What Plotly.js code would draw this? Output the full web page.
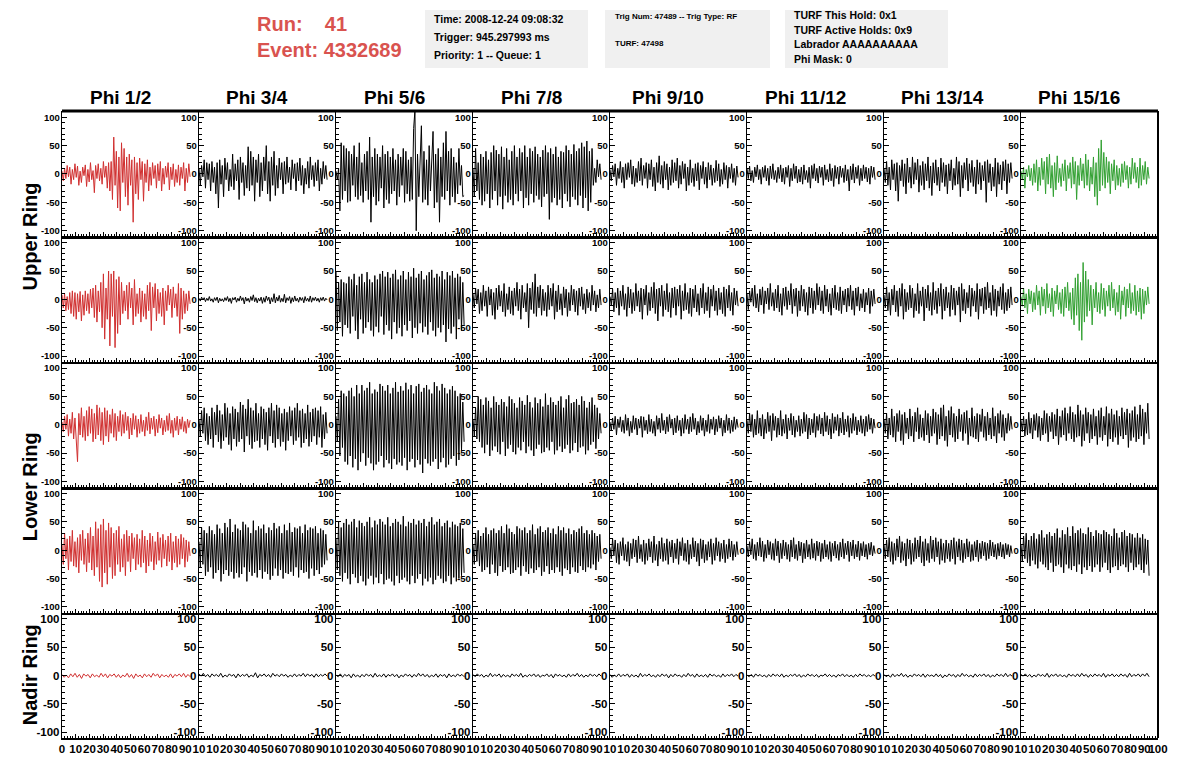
<!DOCTYPE html>
<html><head><meta charset="utf-8">
<script src="https://cdn.plot.ly/plotly-3.0.1.min.js"></script>
<style>html,body{margin:0;padding:0;background:#fff}#chart{width:1196px;height:772px}</style>
</head><body><div id="chart"></div>
<script>
// ---- tick labels / categories ----
const phiLabels = ["Phi 1/2","Phi 3/4","Phi 5/6","Phi 7/8","Phi 9/10","Phi 11/12","Phi 13/14","Phi 15/16"];
const ringLabels = ["Upper Ring","Lower Ring","Nadir Ring"];
const infoBox1 = ["Time: 2008-12-24 09:08:32","Trigger: 945.297993 ms","Priority: 1 -- Queue: 1"];
const infoBox2 = ["Trig Num: 47489 -- Trig Type: RF","TURF: 47498"];
const infoBox3 = ["TURF This Hold: 0x1","TURF Active Holds: 0x9","Labrador AAAAAAAAAA","Phi Mask: 0"];
const runText = "Run:    41";
const eventText = "Event: 4332689";
const traceSpan = 93.5; // ns covered by each waveform

// ---- waveforms (mV), Upper ring top row ----
const r1c1=[5,-12,10,-8,15,-5,12,-18,8,-10,18,-6,14,-20,5,-15,12,-3,16,-22,8,-14,20,-10,6,-33,15,-8,18,-12,10,-18,22,-6,14,-25,20,-30,22,-45,65,-20,40,-60,30,-65,55,-15,45,-40,30,-55,35,-20,25,-85,30,-35,20,-45,28,-10,22,-48,18,-15,25,-30,12,-20,20,-8,15,-25,18,-12,22,-30,10,-18,14,-6,20,-28,12,-10,18,-22,8,-15,16,-20,12,-8,20,-30,10,-15,18,-5];
const r1c2=[10,-20,15,-5,25,-25,20,-10,18,-30,22,-15,12,-35,20,-60,25,-18,15,-40,28,-10,20,-30,8,-22,35,-28,18,-12,25,-45,30,-15,20,-38,15,-25,48,-30,40,-20,30,-48,25,-15,35,-40,20,-30,30,-12,50,-35,22,-48,30,-20,40,-38,15,-25,28,-10,20,-35,22,-18,30,-15,12,-28,25,-8,18,-30,20,-12,28,-20,15,-35,10,-18,22,-25,30,-10,15,-22,20,-12,25,-30,10,-18,22,-8,15,-10];
const r1c3=[5,-10,10,-65,55,-45,50,-30,45,-50,40,-48,35,-20,50,-40,30,-45,55,-38,20,-50,35,-30,40,-45,65,-85,30,-40,45,-55,35,-48,30,-25,50,-60,35,-45,40,-52,30,-35,45,-30,25,-55,35,-40,30,-20,45,-50,40,-35,25,-48,30,-45,80,112,-100,35,-40,30,85,-50,40,-45,25,-55,50,-30,40,75,-60,35,-50,45,-85,30,-40,55,-45,75,-30,40,-55,45,-40,30,-50,20,-35,45,-20,15,-40,-38];
const r1c4=[10,-40,45,-30,20,-45,35,-55,30,-48,40,-35,25,-60,38,-45,50,-30,42,-55,35,-40,48,-62,30,-38,45,-50,25,-45,40,-55,50,-35,30,-48,45,-30,38,-60,50,-42,30,-55,45,-35,40,-50,48,-38,35,-45,30,-58,42,-40,50,-35,38,-80,45,-50,35,-42,48,-55,30,-45,40,-60,38,-35,50,-48,42,-58,35,-40,52,-45,40,-55,45,-38,55,-60,48,-42,58,-65,40,-50,45,-20,10,-15,25,-5,18,-10];
const r1c5=[8,-12,15,-5,18,-20,10,-8,22,-15,12,-25,18,-10,20,-6,25,-18,14,-22,10,-15,22,-12,28,-20,15,-8,20,-25,18,-10,25,-22,12,-30,20,-15,32,-18,15,-25,22,-10,18,-28,12,-20,25,-15,20,-12,28,-25,15,-18,22,-8,18,-30,12,-20,25,-15,10,-22,18,-12,20,-28,15,-8,22,-18,12,-25,20,-10,16,-20,10,-15,24,-12,18,-22,8,-18,20,-10,15,-25,12,-8,18,-15,10,-20,14,-6];
const r1c6=[10,-8,14,-12,6,-15,12,-5,16,-10,8,-18,12,-6,15,-12,10,-20,14,-8,18,-10,6,-15,12,-8,16,-14,10,-18,12,-6,15,-22,10,-12,18,-8,14,-16,8,-14,12,-18,16,-10,6,-15,12,-25,15,-8,18,-12,10,-16,14,-6,12,-20,16,-10,8,-14,18,-12,10,-22,15,-8,12,-18,14,-6,10,-15,16,-12,8,-30,14,-10,18,-16,12,-8,15,-20,10,-12,16,-8,12,-14,10,-18,14,-6,12,-10];
const r1c7=[10,-15,22,-20,12,-28,25,-10,18,-30,20,-48,15,-12,25,-22,18,-35,28,-15,12,-25,30,-18,20,-10,26,-32,15,-20,22,-28,18,-12,30,-25,14,-38,20,-16,25,-20,12,-30,28,-15,20,-22,16,-35,18,-12,25,-28,10,-20,30,-18,22,-40,15,-25,20,-10,28,-30,18,-15,24,-22,12,-35,25,-18,20,-28,15,-12,22,-50,25,-15,18,-30,12,-22,28,-40,20,-18,16,-28,22,-12,25,-35,18,-15,20,-8];
const r1c8=[5,-10,12,-25,8,-5,15,-12,10,-20,18,-15,25,-30,12,-20,28,-10,22,-35,30,-18,35,-25,15,-40,20,-28,32,-15,10,-22,18,-12,25,-30,15,-8,20,-25,30,-18,22,-45,15,-20,28,-12,18,-25,35,-20,25,-30,12,-18,30,-40,20,-55,45,-30,60,-20,38,-25,30,-15,22,-35,18,-12,25,-28,15,-20,10,-22,18,-15,22,-10,15,-25,12,-18,28,-8,20,-15,12,-25,28,-20,15,-10,22,-18,12,-8];
// ---- Upper ring bottom row ----
const r2c1=[8,-15,10,-20,5,-18,12,-25,15,-30,12,-35,10,-22,14,-38,8,-28,15,-20,10,-25,18,-15,20,-32,25,-40,15,-22,30,-50,45,-70,20,-35,50,-82,45,-30,50,-85,35,-60,40,-45,30,-25,15,-20,25,-35,30,-15,20,-45,35,-30,10,-25,20,-40,15,-30,10,-35,25,-20,30,-55,22,-15,28,-38,18,-25,12,-30,20,-45,15,-20,25,-10,18,-32,22,-15,10,-30,28,-60,20,-35,15,-25,10,-20,15,-8];
const r2c2=[2,-3,4,-1,3,-4,2,-2,5,-3,1,-5,3,-2,4,-6,2,-3,1,-4,3,-2,5,-4,2,-7,3,-1,4,-5,2,-3,6,-2,3,-8,4,-3,2,-5,5,-2,8,-4,3,-6,2,-3,4,-7,3,-5,6,-2,4,-8,3,-4,10,-6,4,-3,7,-5,2,-4,9,-6,3,-2,5,-7,3,-4,6,-3,2,-5,4,-2,3,-6,5,-3,2,-4,6,-5,3,-2,4,-3,2,-5,3,-2,4,-3,2,-1];
const r2c3=[50,-55,30,-40,35,-65,30,-45,28,-50,40,-60,35,-30,45,-55,25,-70,40,-35,45,-60,30,-50,48,-40,35,-55,30,-65,42,-48,35,-58,45,-30,50,-62,40,-45,48,-55,38,-70,45,-40,52,-60,35,-50,42,-65,50,-45,35,-55,48,-38,40,-68,55,-50,38,-60,45,-42,50,-58,35,-48,42,-62,48,-40,52,-55,38,-65,45,-50,40,-58,50,-45,35,-75,48,-52,42,-60,50,-48,38,-70,45,-35,40,-55,30,-45];
const r2c4=[10,-15,20,-8,18,-25,12,-20,25,-12,15,-30,22,-10,18,-28,12,-35,20,-18,25,-12,15,-22,28,-30,10,-18,22,-25,15,-28,20,-12,30,-20,18,-35,25,-15,12,-22,28,-50,20,-18,30,-25,45,-30,22,-15,25,-28,18,-20,12,-30,25,-18,20,-12,28,-35,15,-22,25,-18,10,-28,22,-15,18,-30,12,-20,25,-10,18,-22,15,-28,20,-12,22,-18,10,-25,18,-15,12,-20,25,-10,15,-22,8,-15,18,-10];
const r2c5=[5,-10,18,-22,12,-15,20,-28,15,-12,25,-18,10,-30,22,-15,18,-25,12,-20,28,-12,15,-22,20,-35,18,-10,25,-28,12,-20,22,-15,30,-25,18,-38,20,-12,25,-30,15,-18,28,-22,12,-32,20,-15,22,-28,18,-12,25,-35,15,-20,28,-18,12,-25,20,-30,18,-15,25,-22,10,-28,20,-15,28,-25,12,-20,22,-32,18,-12,25,-20,15,-28,20,-18,12,-25,22,-30,18,-15,25,-20,12,-28,20,-10,15,-12];
const r2c6=[10,-18,15,-5,20,-12,25,-15,10,-22,18,-10,22,-25,15,-8,20,-18,28,-12,12,-20,18,-15,25,-22,10,-28,20,-12,22,-18,15,-10,28,-25,18,-12,20,-30,15,-20,25,-12,18,-22,12,-28,22,-15,20,-25,15,-18,28,-10,22,-20,15,-25,25,-12,18,-22,10,-28,20,-15,25,-18,12,-20,22,-25,15,-10,18,-22,20,-12,25,-18,15,-28,20,-12,22,-20,10,-15,18,-22,12,-10,20,-25,15,-12,18,-8];
const r2c7=[8,-15,22,-20,12,-28,18,-10,25,-22,15,-30,20,-12,28,-35,18,-22,12,-18,25,-15,20,-32,10,-20,28,-25,15,-12,22,-38,18,-15,25,-20,12,-28,30,-18,15,-25,20,-12,28,-35,18,-20,22,-15,12,-30,25,-18,20,-28,15,-10,22,-40,28,-20,18,-25,12,-15,25,-30,20,-12,15,-22,28,-35,18,-12,20,-25,22,-18,30,-15,12,-28,25,-20,18,-30,15,-12,22,-18,28,-25,12,-20,18,-15,22,-10];
const r2c8=[5,-12,20,-15,10,-25,18,-8,15,-22,12,-18,25,-10,15,-28,22,-12,18,-25,28,-15,10,-22,20,-30,15,-8,25,-18,12,-25,18,-30,22,-15,30,-20,12,-35,20,-45,38,-28,45,-55,30,-72,65,-40,50,-30,35,-20,25,-45,18,-15,30,-22,12,-25,28,-18,20,-30,15,-12,25,-20,30,-15,18,-28,12,-22,25,-35,15,-10,22,-30,18,-15,28,-25,12,-20,25,-28,15,-22,20,-35,18,-25,15,-10,22,-8];
// ---- Lower ring top row ----
const r3c1=[5,-12,15,-8,18,-20,10,-15,22,-25,12,-35,-65,20,-18,30,-22,15,-28,25,-20,32,-15,28,-30,20,-25,35,-18,30,-28,22,-35,30,-20,25,-30,18,-15,28,-22,20,-28,15,-12,25,-20,18,-15,22,-10,15,-25,12,-18,20,-8,16,-22,10,-15,18,-12,8,-20,14,-10,22,-16,12,-8,15,-20,10,-14,18,-6,12,-18,8,-12,16,-10,20,-15,8,-22,12,-10,15,-18,10,-8,14,-12,6,-15,10,-5,8];
const r3c2=[10,-20,25,-15,30,-28,20,-35,15,-25,30,-40,22,-18,35,-30,25,-42,18,-28,38,-22,30,-35,20,-45,32,-25,28,-38,22,-30,40,-25,35,-48,28,-20,45,-35,30,-42,25,-30,38,-28,20,-40,32,-25,28,-35,22,-45,30,-20,38,-32,25,-40,35,-25,30,-38,20,-30,28,-45,22,-28,32,-20,25,-35,30,-28,38,-22,25,-40,28,-32,20,-25,35,-38,22,-30,28,-20,30,-35,25,-22,32,-40,18,-25,22,-15];
const r3c3=[15,-30,45,-55,60,-40,55,-65,50,-70,60,-55,65,-75,50,-60,70,-80,55,-65,70,-50,60,-72,65,-58,75,-68,55,-80,62,-70,58,-65,72,-55,68,-75,60,-62,70,-68,55,-78,65,-60,75,-70,58,-66,68,-72,60,-58,74,-80,62,-65,70,-60,55,-75,68,-62,72,-70,58,-85,65,-60,70,-68,62,-72,55,-65,75,-60,68,-78,60,-66,72,-58,65,-75,55,-70,62,-60,68,-55,60,-72,50,-62,55,-45,40,-30];
const r3c4=[10,-20,30,-25,50,-30,45,-40,35,-50,48,-35,42,-55,30,-45,50,-38,40,-48,35,-52,45,-30,40,-55,32,-42,50,-35,45,-48,38,-52,30,-40,48,-45,42,-30,35,-50,52,-38,40,-45,30,-55,48,-42,38,-35,45,-50,32,-48,55,-40,35,-45,48,-30,40,-52,35,-45,42,-38,50,-48,30,-42,45,-35,52,-50,38,-45,40,-32,45,-48,35,-40,50,-38,42,-52,30,-45,40,-35,48,-30,35,-42,30,-25,20,-15];
const r3c5=[5,-10,12,-8,15,-18,10,-5,14,-12,8,-15,18,-10,12,-20,6,-14,16,-8,12,-18,10,-6,15,-22,14,-10,8,-16,18,-12,10,-15,6,-20,16,-8,12,-14,20,-10,8,-16,14,-12,18,-6,10,-18,12,-14,16,-10,8,-20,12,-15,18,-8,10,-16,14,-12,20,-8,12,-18,6,-14,16,-10,12,-20,8,-12,18,-15,10,-8,14,-18,10,-12,16,-6,12,-20,8,-14,18,-10,12,-15,8,-12,14,-8,10,-5];
const r3c6=[8,-15,20,-12,18,-22,10,-18,25,-15,12,-20,18,-25,10,-15,22,-12,16,-28,20,-10,15,-22,12,-18,25,-20,10,-15,18,-25,12,-10,20,-18,15,-22,8,-12,16,-20,10,-15,22,-12,18,-25,12,-18,10,-14,20,-22,15,-10,18,-16,12,-20,22,-12,16,-18,10,-25,20,-15,14,-10,18,-20,12,-14,22,-18,10,-12,16,-22,12,-15,20,-10,14,-18,8,-12,16,-15,10,-20,15,-12,18,-8,12,-15,10,-6];
const r3c7=[10,-15,20,-25,12,-18,28,-22,15,-30,20,-12,25,-28,18,-35,22,-15,12,-25,28,-20,15,-30,22,-12,30,-25,18,-22,12,-28,25,-18,20,-32,15,-20,28,-15,22,-35,18,-25,30,-20,35,-28,15,-38,25,-18,32,-22,20,-30,15,-25,28,-12,18,-28,22,-15,25,-35,12,-20,30,-22,15,-25,20,-30,18,-12,28,-22,15,-28,22,-18,12,-25,30,-20,15,-32,20,-15,25,-22,18,-28,12,-15,20,-10,15,-8];
const r3c8=[8,-12,15,-20,10,-18,22,-15,12,-25,18,-10,20,-22,15,-28,12,-18,25,-15,20,-30,15,-12,22,-25,18,-20,28,-35,15,-22,25,-18,30,-28,20,-15,32,-25,22,-30,18,-22,35,-20,25,-38,18,-28,30,-15,22,-32,18,-25,28,-20,15,-35,25,-22,30,-28,15,-18,32,-38,20,-25,28,-30,18,-22,25,-35,15,-20,30,-25,22,-18,28,-40,20,-28,25,-22,32,-30,18,-25,35,-20,28,-35,22,-15,38,-25];
// ---- Lower ring bottom row ----
const r4c1=[10,-25,30,-15,20,-35,25,-20,35,-28,15,-30,22,-40,28,-18,35,-25,20,-38,30,-22,40,-35,25,-45,50,-30,38,-55,45,-65,55,-40,35,-60,48,-30,40,-50,30,-45,35,-25,42,-38,20,-30,28,-45,35,-20,25,-38,30,-15,22,-35,28,-25,20,-30,35,-22,25,-40,18,-28,30,-20,25,-35,15,-25,32,-18,22,-30,28,-15,18,-28,25,-20,30,-35,15,-22,25,-30,20,-25,28,-15,22,-30,18,-20,15,-10];
const r4c2=[15,-30,40,-25,35,-45,30,-38,42,-30,35,-50,28,-40,45,-35,38,-55,30,-42,48,-35,40,-45,55,-38,32,-50,45,-40,38,-48,35,-42,50,-30,45,-55,40,-38,30,-45,52,-40,35,-48,42,-35,38,-50,45,-38,30,-42,40,-52,35,-45,48,-32,38,-45,42,-35,30,-50,45,-40,35,-42,48,-38,32,-45,40,-30,38,-48,42,-35,30,-40,45,-38,35,-50,40,-32,38,-45,42,-35,30,-42,38,-30,35,-25,28,-18];
const r4c3=[20,-35,50,-45,40,-55,48,-40,55,-50,45,-60,50,-42,55,-48,40,-58,52,-45,48,-55,42,-62,50,-50,58,-45,40,-60,52,-48,45,-58,55,-42,50,-60,45,-52,58,-50,42,-55,48,-62,55,-45,50,-58,45,-52,60,-48,42,-55,50,-60,48,-45,55,-58,45,-50,52,-42,48,-62,55,-50,42,-55,50,-48,58,-60,45,-52,50,-45,55,-50,42,-58,48,-55,52,-45,40,-60,50,-48,45,-55,42,-50,48,-45,38,-40];
const r4c4=[10,-25,30,-20,35,-28,25,-38,30,-35,40,-30,28,-42,35,-25,38,-40,30,-45,35,-28,42,-38,30,-35,45,-30,38,-42,32,-40,28,-35,42,-30,38,-45,35,-28,40,-38,30,-42,35,-32,45,-40,28,-35,38,-30,42,-45,32,-38,35,-28,40,-42,30,-35,38,-40,28,-30,42,-38,35,-45,40,-32,30,-35,38,-42,28,-30,35,-38,32,-40,38,-28,42,-35,30,-38,35,-30,28,-32,35,-25,30,-35,25,-20,28,-15];
const r4c5=[5,-15,20,-10,18,-22,12,-25,15,-10,22,-18,10,-20,15,-28,12,-15,20,-12,18,-22,25,-15,10,-20,18,-25,12,-18,20,-12,15,-22,25,-18,10,-28,16,-15,22,-20,12,-18,20,-25,15,-12,18,-22,12,-15,20,-25,15,-10,22,-18,12,-20,18,-25,10,-15,22,-12,16,-20,12,-28,20,-15,18,-22,10,-18,15,-12,20,-25,12,-18,22,-10,15,-20,12,-15,18,-22,10,-15,20,-12,16,-18,10,-12,15,-8];
const r4c6=[8,-12,15,-8,20,-15,10,-18,14,-10,22,-12,16,-20,10,-14,18,-8,15,-16,12,-18,20,-10,16,-22,12,-15,18,-10,14,-16,10,-20,18,-12,22,-15,10,-18,16,-10,14,-22,12,-15,18,-12,10,-16,20,-14,12,-18,16,-10,14,-20,12,-15,18,-12,10,-16,15,-20,12,-10,16,-14,10,-18,14,-12,20,-15,12,-8,16,-20,14,-10,18,-15,10,-12,16,-18,12,-10,15,-12,10,-16,12,-8,14,-10,8,-6];
const r4c7=[10,-15,18,-12,22,-20,15,-25,12,-18,20,-12,25,-22,15,-18,12,-28,20,-15,18,-25,12,-20,22,-15,18,-12,25,-22,15,-28,20,-18,12,-22,25,-15,18,-20,22,-12,15,-25,20,-18,12,-22,18,-15,12,-20,18,-15,22,-25,15,-12,20,-18,18,-22,12,-15,20,-12,15,-20,10,-18,15,-12,18,-20,12,-15,16,-10,14,-18,12,-15,18,-10,14,-12,10,-16,12,-10,14,-12,10,-15,12,-8,10,-12,8,-6];
const r4c8=[10,-20,25,-15,30,-22,18,-28,25,-18,30,-25,20,-32,28,-20,35,-25,22,-30,28,-35,32,-22,25,-38,30,-28,38,-25,22,-30,35,-40,28,-25,40,-32,25,-35,42,-28,30,-38,35,-25,38,-42,30,-30,28,-35,40,-28,32,-38,25,-30,35,-25,30,-38,28,-30,35,-22,32,-35,28,-40,25,-30,38,-28,30,-35,22,-28,32,-25,35,-30,25,-38,30,-22,28,-35,22,-30,30,-25,22,-35,28,-40,20,-25,18,-45];
// ---- Nadir ring ----
const r5c1=[2,-3,1,-4,3,-2,4,-3,2,-5,3,-1,2,-4,3,-2,1,-3,4,-2,3,-4,2,-1,3,-3,2,-4,1,-2,4,-3,2,-5,3,-2,1,-4,3,-2,2,-3,4,-1,3,-4,2,-2,1,-3,3,-4,2,-1,3,-2,4,-3,2,-2];
const r5c2=[3,-1,4,-2,2,-3,3,-1,2,-2,4,-3,1,-2,3,-1,2,-4,3,-2,2,-1,3,-3,1,-2,5,-4,2,-1,3,-2,2,-3,4,-1,2,-2,3,-1,2,-3,1,-2,3,-2,2,-1,4,-2,3,-1,2,-3,3,-2,2,-1,3,-1];
const r5c3=[1,-2,3,-3,2,-1,2,-4,3,-2,1,-3,2,-2,3,-1,2,-3,4,-2,1,-2,3,-3,2,-1,3,-2,2,-4,1,-2,3,-1,2,-3,2,-2,4,-1,3,-2,2,-3,1,-2,3,-3,2,-1,2,-4,3,-2,1,-2,3,-1,2,-2];
const r5c4=[2,-2,3,-1,2,-3,1,-2,4,-2,2,-1,3,-3,2,-2,1,-3,3,-1,2,-2,4,-3,1,-2,2,-1,3,-2,2,-3,1,-1,3,-2,2,-4,3,-1,2,-2,1,-3,3,-2,2,-1,4,-2,2,-3,1,-2,3,-1,2,-2,3,-1];
const r5c5=[2,-3,1,-2,3,-2,2,-1,3,-3,2,-2,1,-3,4,-2,2,-1,3,-2,1,-3,2,-2,3,-1,2,-4,2,-2,3,-1,1,-3,2,-2,4,-1,2,-3,3,-2,1,-2,2,-3,3,-1,2,-2,1,-3,3,-2,2,-1,3,-2,2,-1];
const r5c6=[1,-2,2,-3,3,-1,2,-2,1,-3,2,-2,3,-1,2,-2,3,-3,1,-2,2,-1,3,-2,2,-3,1,-2,3,-1,2,-2,2,-3,1,-1,3,-2,2,-2,1,-3,2,-1,3,-2,2,-2,1,-3,2,-2,3,-1,2,-2,1,-2,2,-1];
const r5c7=[2,-2,1,-3,3,-2,2,-1,4,-2,2,-3,1,-2,3,-1,2,-2,3,-3,2,-1,1,-2,3,-2,2,-4,1,-2,3,-1,2,-3,2,-2,4,-1,2,-2,1,-3,3,-2,2,-1,3,-2,2,-3,1,-2,3,-1,2,-2,4,-2,2,-1];
const r5c8=[2,-1,3,-2,2,-3,1,-2,3,-1,2,-2,4,-3,2,-1,3,-2,2,-2,1,-3,3,-1,2,-2,3,-2,4,-1,2,-3,2,-2,3,-1,2,-2,4,-3,2,-1,3,-2,2,-2,3,-1,2,-3,4,-2,2,-1,3,-2,3,-1,4,-2];

const grid = [
  [r1c1,r1c2,r1c3,r1c4,r1c5,r1c6,r1c7,r1c8],
  [r2c1,r2c2,r2c3,r2c4,r2c5,r2c6,r2c7,r2c8],
  [r3c1,r3c2,r3c3,r3c4,r3c5,r3c6,r3c7,r3c8],
  [r4c1,r4c2,r4c3,r4c4,r4c5,r4c6,r4c7,r4c8],
  [r5c1,r5c2,r5c3,r5c4,r5c5,r5c6,r5c7,r5c8]
];

// ---- layout geometry (px) ----
const W=1196, H=772;
const X0=62, CW=137, Y0=111, RH=125.4;
const px=x=>x/W, py=y=>1-y/H;
const FONT="Liberation Sans, Arial, Helvetica, sans-serif";
const RED="#d03030", GREEN="#32a032";

const traces=[];
const layout={
  width:W,height:H,margin:{l:0,r:0,t:0,b:0},
  paper_bgcolor:"#fff",plot_bgcolor:"rgba(0,0,0,0)",
  showlegend:false,font:{family:FONT,color:"#000"},
  annotations:[],shapes:[]
};

for(let r=0;r<5;r++){
  for(let c=0;c<8;c++){
    const k=r*8+c+1;
    const ys=grid[r][c];
    const n=ys.length;
    const xs=ys.map((_,i)=>i*traceSpan/(n-1));
    const col = c===0 ? RED : (c===7 && r<2 ? GREEN : "#000");
    traces.push({type:"scatter",mode:"lines",x:xs,y:ys,
      xaxis:"x"+(k===1?"":k),yaxis:"y"+(k===1?"":k),
      line:{color:col,width:1},hoverinfo:"skip"});
    const xl=X0+CW*c, xr=xl+CW, yt=Y0+RH*r, yb=yt+RH;
    const bottom = r===4;
    const tv=[0,10,20,30,40,50,60,70,80,90,100];
    const tt=tv.map(v=>{
      if(v===0) return c===0?"0":"";
      if(v===100) return c===7?"100":"10";
      return String(v);
    });
    layout["xaxis"+(k===1?"":k)]={
      domain:[px(xl),px(xr)],anchor:"y"+(k===1?"":k),range:[0,100],
      showgrid:false,zeroline:false,showline:true,linecolor:"#000",
      linewidth: bottom?1.5:2.5,
      ticks:"inside",ticklen:4,tickcolor:"#000",tickwidth:1,
      tickvals:tv,ticktext:tt,showticklabels:bottom,tickangle:0,
      tickfont:{size:11.5,family:FONT,weight:"bold",color:"#000"},
      minor:{dtick:2,tick0:0,ticks:"inside",ticklen:2,tickcolor:"#000",tickwidth:1,showgrid:false},
      fixedrange:true
    };
    layout["yaxis"+(k===1?"":k)]={
      domain:[py(yb),py(yt)],anchor:"x"+(k===1?"":k),range:[-110,111],
      showgrid:false,zeroline:false,showline:true,linecolor:"#000",linewidth:1.2,
      ticks:"inside",ticklen:5,tickcolor:"#000",tickwidth:1,
      tickvals:[-100,-50,0,50,100],ticktext:["-100","-50","0","50","100"],
      tickfont:{size: bottom?11.5:9.5,family:FONT,weight:"bold",color:"#000"},
      ticklabelstandoff:-1,tickangle:0,
      minor:{dtick:10,tick0:0,ticks:"inside",ticklen:3,tickcolor:"#000",tickwidth:1,showgrid:false},
      fixedrange:true
    };
  }
}

// frame lines
layout.shapes.push({type:"line",xref:"paper",yref:"paper",x0:px(X0),x1:px(X0+8*CW),y0:py(Y0),y1:py(Y0),line:{color:"#000",width:3}});
layout.shapes.push({type:"line",xref:"paper",yref:"paper",x0:px(X0+8*CW),x1:px(X0+8*CW),y0:py(Y0),y1:py(Y0+5*RH),line:{color:"#000",width:2}});

// column titles
phiLabels.forEach((t,c)=>{
  layout.annotations.push({text:t,xref:"paper",yref:"paper",x:px(120+137*c),y:py(97),
    xanchor:"center",yanchor:"middle",showarrow:false,font:{size:19,family:FONT,weight:"bold",color:"#000"}});
});
// ring labels
const ringY=[Y0+RH, Y0+3*RH, Y0+4.5*RH];
ringLabels.forEach((t,i)=>{
  layout.annotations.push({text:t,xref:"paper",yref:"paper",x:px(30),y:py(ringY[i]),textangle:-90,
    xanchor:"center",yanchor:"middle",showarrow:false,font:{size:20,family:FONT,weight:"bold",color:"#000"}});
});

// header
const HRED="#d9534f";
layout.annotations.push({text:runText.replace(/ /g,"&nbsp;"),xref:"paper",yref:"paper",x:px(255),y:py(24),xanchor:"left",yanchor:"middle",showarrow:false,font:{size:20,family:FONT,weight:"bold",color:HRED}});
layout.annotations.push({text:eventText,xref:"paper",yref:"paper",x:px(255),y:py(50),xanchor:"left",yanchor:"middle",showarrow:false,font:{size:20,family:FONT,weight:"bold",color:HRED}});

const boxes=[[425,588],[605,770],[785,948]];
boxes.forEach(b=>layout.shapes.push({type:"rect",xref:"paper",yref:"paper",x0:px(b[0]),x1:px(b[1]),y0:py(68),y1:py(10),fillcolor:"#f0f0f0",line:{width:0},layer:"below"}));
const box1Y=[19,37,55];
infoBox1.forEach((t,i)=>layout.annotations.push({text:t,xref:"paper",yref:"paper",x:px(432),y:py(box1Y[i]),xanchor:"left",yanchor:"middle",showarrow:false,font:{size:10.5,family:FONT,weight:"bold",color:"#000"}}));
const box2Y=[17,44];
infoBox2.forEach((t,i)=>layout.annotations.push({text:t,xref:"paper",yref:"paper",x:px(613),y:py(box2Y[i]),xanchor:"left",yanchor:"middle",showarrow:false,font:{size:8,family:FONT,weight:"bold",color:"#000"}}));
const box3Y=[15,30,44,59];
infoBox3.forEach((t,i)=>layout.annotations.push({text:t,xref:"paper",yref:"paper",x:px(792),y:py(box3Y[i]),xanchor:"left",yanchor:"middle",showarrow:false,font:{size:10.5,family:FONT,weight:"bold",color:"#000"}}));

Plotly.newPlot("chart",traces,layout,{staticPlot:true,displayModeBar:false});
</script></body></html>
